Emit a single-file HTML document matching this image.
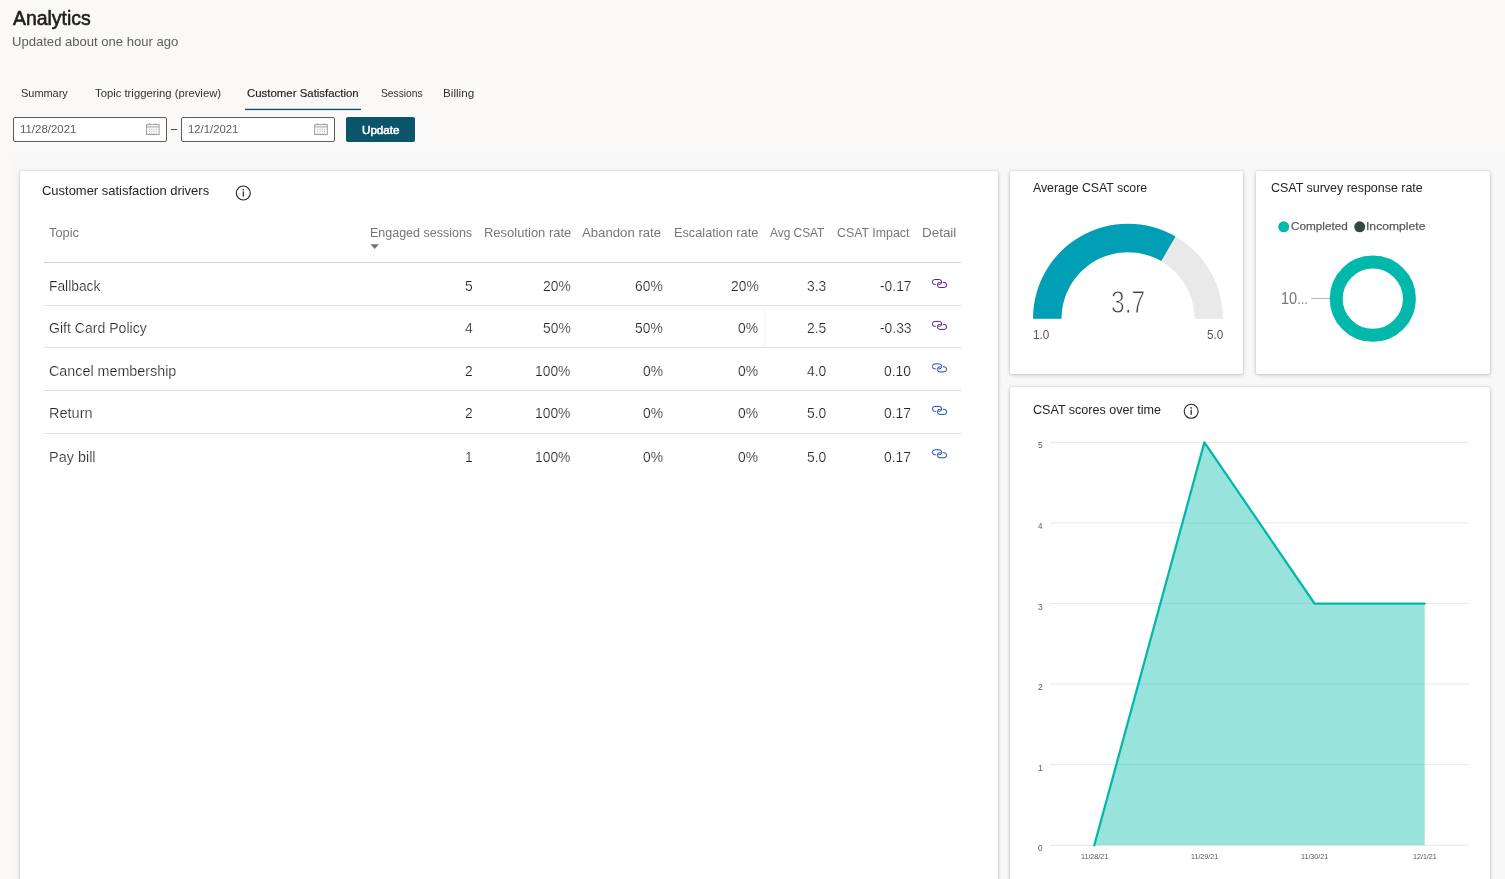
<!DOCTYPE html>
<html lang="en">
<head>
<meta charset="utf-8">
<title>Analytics - Customer Satisfaction</title>
<style>
html,body{margin:0;padding:0;}
body{width:1505px;height:879px;overflow:hidden;background:#faf9f8;font-family:"Liberation Sans",sans-serif;}
#root{position:relative;width:1505px;height:879px;overflow:hidden;}
.t{position:absolute;white-space:nowrap;line-height:1;transform-origin:0 0;font-family:"Liberation Sans",sans-serif;}
.abs{position:absolute;}
.card{position:absolute;background:#fff;border-radius:2px;box-shadow:0 1px 4px rgba(0,0,0,.20),0 0 2px rgba(0,0,0,.14);}
.inp{position:absolute;box-sizing:border-box;background:#fff;border:1px solid #605e5c;border-radius:2px;}
.hl{position:absolute;height:1px;}
svg{position:absolute;left:0;top:0;overflow:visible;}
</style>
</head>
<body>
<div id="root">
<!-- Power BI embed backdrop -->
<div class="abs" style="left:13px;top:153px;width:1492px;height:726px;background:#f8f8f8;"></div>

<!-- selected tab underline -->

<!-- date inputs + button -->
<div class="inp" style="left:13px;top:117px;width:154px;height:25px;"></div>
<div class="inp" style="left:181px;top:117px;width:154px;height:25px;"></div>
<div class="abs" style="left:346px;top:117px;width:69px;height:25px;background:#0b556a;border-radius:2px;"></div>

<!-- cards -->
<div class="card" style="left:20px;top:171px;width:978px;height:740px;"></div>
<div class="card" style="left:1010px;top:171px;width:233px;height:203px;"></div>
<div class="card" style="left:1256px;top:171px;width:234px;height:203px;"></div>
<div class="card" style="left:1010px;top:387px;width:480px;height:520px;"></div>

<!-- table rules -->
<div class="hl" style="left:44px;top:262px;width:917px;background:#cfcfcf;"></div>
<div class="hl" style="left:44px;top:305px;width:917px;background:#e3e3e3;"></div>
<div class="hl" style="left:44px;top:347px;width:917px;background:#e3e3e3;"></div>
<div class="hl" style="left:44px;top:389.5px;width:917px;height:1.5px;background:#e0e0e0;"></div>
<div class="hl" style="left:44px;top:433px;width:917px;background:#e3e3e3;"></div>
<div class="abs" style="left:764px;top:306px;width:1px;height:41px;background:#f4f4f4;"></div>


<svg width="1505" height="879" viewBox="0 0 1505 879">
  <defs>
    <g id="cal" fill="none" stroke="#a19f9d" stroke-width="1">
      <rect x="0.5" y="1.6" width="12.6" height="10"/>
      <line x1="0.5" y1="3.9" x2="13.1" y2="3.9"/>
      <line x1="3.6" y1="0.2" x2="3.6" y2="2"/>
      <line x1="10.0" y1="0.2" x2="10.0" y2="2"/>
      <g stroke="#b9b7b5" stroke-dasharray="1.3 0.9">
        <line x1="3.6" y1="5.6" x2="3.6" y2="11"/>
        <line x1="5.8" y1="5.6" x2="5.8" y2="11"/>
        <line x1="8.0" y1="5.6" x2="8.0" y2="11"/>
        <line x1="10.2" y1="5.6" x2="10.2" y2="11"/>
      </g>
    </g>
    <g id="info">
      <circle cx="0" cy="0" r="7" fill="none" stroke="#252423" stroke-width="1.1"/>
      <rect x="-0.6" y="-1.6" width="1.2" height="5.2" fill="#252423"/>
      <rect x="-0.7" y="-4.1" width="1.4" height="1.4" fill="#252423"/>
    </g>
    <g id="lnk" fill="none" stroke-width="1" stroke-linecap="round">
      <path d="M 4.0,5.5 L 3.5,5.5 A 2.5 2.5 0 0 1 3.5,0.5 L 7.8,0.5 A 2.5 2.5 0 0 1 7.8,5.5 L 7.4,5.5"/>
      <path d="M 11.9,3.4 L 12.7,3.4 A 2.55 2.55 0 0 1 12.7,8.5 L 8.5,8.5 A 2.55 2.55 0 0 1 8.5,3.4 L 8.9,3.4"/>
    </g>
  </defs>

  <rect x="245" y="108.75" width="116" height="1.35" fill="#0b556a"/>
  <use href="#cal" x="146" y="123"/>
  <use href="#cal" x="314.2" y="123"/>

  <use href="#info" x="243.3" y="193"/>
  <use href="#info" x="1191.2" y="411.3"/>

  <!-- sort arrow -->
  <polygon points="370.5,244.3 378.9,244.3 374.7,248.9" fill="#737373"/>

  <!-- detail links -->
  <use href="#lnk" x="931.4" y="279.0" stroke="#5a1e96"/>
  <use href="#lnk" x="931.4" y="320.9" stroke="#5a1e96"/>
  <use href="#lnk" x="931.4" y="363.4" stroke="#2244bb"/>
  <use href="#lnk" x="931.4" y="405.9" stroke="#2244bb"/>
  <use href="#lnk" x="931.4" y="449.3" stroke="#2244bb"/>

  <!-- gauge: centre (1128,318.7) R=95 r=66.5 ; fill to 60deg from right -->
  <path d="M 1033,318.7 A 95 95 0 0 1 1223,318.7 L 1194.5,318.7 A 66.5 66.5 0 0 0 1061.5,318.7 Z" fill="#e9e9e9"/>
  <path d="M 1033,318.7 A 95 95 0 0 1 1175.5,236.43 L 1161.25,261.11 A 66.5 66.5 0 0 0 1061.5,318.7 Z" fill="#019fb5"/>

  <!-- donut -->
  <circle cx="1372.8" cy="298.7" r="36.6" fill="none" stroke="#01b8aa" stroke-width="13"/>
  <line x1="1311.4" y1="298.4" x2="1330" y2="298.4" stroke="#b0b0b0" stroke-width="1"/>
  <circle cx="1283.7" cy="226.8" r="5.5" fill="#01b8aa"/>
  <circle cx="1359.7" cy="226.8" r="5.5" fill="#374649"/>

  <!-- area chart -->
  <g stroke="#e9e9e9" stroke-width="1">
    <line x1="1050" y1="442.4" x2="1469" y2="442.4"/>
    <line x1="1050" y1="522.9" x2="1469" y2="522.9"/>
    <line x1="1050" y1="603.5" x2="1469" y2="603.5"/>
    <line x1="1050" y1="684.0" x2="1469" y2="684.0"/>
    <line x1="1050" y1="764.6" x2="1469" y2="764.6"/>
    <line x1="1050" y1="845.3" x2="1469" y2="845.3"/>
  </g>
  <polygon points="1094.3,845.3 1204.4,442.4 1314.5,603.5 1424.7,603.5 1424.7,845.3" fill="#01b8aa" fill-opacity="0.4"/>
  <polyline points="1094.3,845.3 1204.4,442.4 1314.5,603.5 1424.7,603.5" fill="none" stroke="#01b8aa" stroke-width="2.25" stroke-linejoin="round" stroke-linecap="round"/>
</svg>

<!-- text -->
<span class="t" style="left:13.20px;top:9px;font-size:19.5px;color:#201f1e;transform:scaleX(0.9959);-webkit-text-stroke:0.6px #201f1e;">Analytics</span>
<span class="t" style="left:12.18px;top:35px;font-size:13px;color:#605e5c;transform:scaleX(1.0049);">Updated about one hour ago</span>
<span class="t" style="left:20.96px;top:88px;font-size:11.4px;color:#323130;transform:scaleX(0.9604);">Summary</span>
<span class="t" style="left:94.52px;top:88px;font-size:11.4px;color:#323130;transform:scaleX(0.9907);">Topic triggering (preview)</span>
<span class="t" style="left:246.86px;top:88px;font-size:11.4px;color:#201f1e;transform:scaleX(1.0024);-webkit-text-stroke:0.18px #201f1e;">Customer Satisfaction</span>
<span class="t" style="left:380.68px;top:88px;font-size:11.4px;color:#323130;transform:scaleX(0.9002);">Sessions</span>
<span class="t" style="left:443.49px;top:88px;font-size:11.4px;color:#323130;transform:scaleX(1.0248);">Billing</span>
<span class="t" style="left:19.89px;top:124px;font-size:11.3px;color:#605e5c;transform:scaleX(1.0119);">11/28/2021</span>
<span class="t" style="left:188.09px;top:124px;font-size:11.3px;color:#605e5c;transform:scaleX(1.0019);">12/1/2021</span>
<span class="t" style="left:171.00px;top:123px;font-size:12px;color:#323130;transform:scaleX(0.9185);">–</span>
<span class="t" style="left:361.67px;top:125px;font-size:10.8px;color:#ffffff;transform:scaleX(1.0767);-webkit-text-stroke:0.5px #fff;">Update</span>
<span class="t" style="left:42.09px;top:184px;font-size:13px;color:#252423;transform:scaleX(0.9970);">Customer satisfaction drivers</span>
<span class="t" style="left:49.40px;top:227px;font-size:12.4px;color:#777777;transform:scaleX(1.0364);">Topic</span>
<span class="t" style="left:370.02px;top:227px;font-size:12.4px;color:#777777;transform:scaleX(1.0082);">Engaged sessions</span>
<span class="t" style="left:483.59px;top:227px;font-size:12.4px;color:#777777;transform:scaleX(1.0472);">Resolution rate</span>
<span class="t" style="left:582.00px;top:227px;font-size:12.4px;color:#777777;transform:scaleX(1.0628);">Abandon rate</span>
<span class="t" style="left:674.00px;top:227px;font-size:12.4px;color:#777777;transform:scaleX(1.0279);">Escalation rate</span>
<span class="t" style="left:770.00px;top:227px;font-size:12.4px;color:#777777;transform:scaleX(0.9588);">Avg CSAT</span>
<span class="t" style="left:837.22px;top:227px;font-size:12.4px;color:#777777;transform:scaleX(0.9990);">CSAT Impact</span>
<span class="t" style="left:922.15px;top:227px;font-size:12.4px;color:#777777;transform:scaleX(1.0830);">Detail</span>
<span class="t" style="left:48.62px;top:279px;font-size:14.1px;color:#262626;transform:scaleX(0.9783);-webkit-text-stroke:0.2px #fff;">Fallback</span>
<span class="t" style="left:465.06px;top:279px;font-size:14.5px;color:#262626;transform:scaleX(0.9550);-webkit-text-stroke:0.2px #fff;">5</span>
<span class="t" style="left:543.10px;top:279px;font-size:14.5px;color:#262626;transform:scaleX(0.9550);-webkit-text-stroke:0.2px #fff;">20%</span>
<span class="t" style="left:634.90px;top:279px;font-size:14.5px;color:#262626;transform:scaleX(0.9550);-webkit-text-stroke:0.2px #fff;">60%</span>
<span class="t" style="left:730.50px;top:279px;font-size:14.5px;color:#262626;transform:scaleX(0.9550);-webkit-text-stroke:0.2px #fff;">20%</span>
<span class="t" style="left:806.81px;top:279px;font-size:14.5px;color:#262626;transform:scaleX(0.9550);-webkit-text-stroke:0.2px #fff;">3.3</span>
<span class="t" style="left:879.70px;top:279px;font-size:14.5px;color:#262626;transform:scaleX(0.9550);-webkit-text-stroke:0.2px #fff;">-0.17</span>
<span class="t" style="left:49.04px;top:321px;font-size:14.1px;color:#262626;transform:scaleX(0.9981);-webkit-text-stroke:0.2px #fff;">Gift Card Policy</span>
<span class="t" style="left:464.84px;top:321px;font-size:14.5px;color:#262626;transform:scaleX(0.9550);-webkit-text-stroke:0.2px #fff;">4</span>
<span class="t" style="left:543.10px;top:321px;font-size:14.5px;color:#262626;transform:scaleX(0.9550);-webkit-text-stroke:0.2px #fff;">50%</span>
<span class="t" style="left:634.90px;top:321px;font-size:14.5px;color:#262626;transform:scaleX(0.9550);-webkit-text-stroke:0.2px #fff;">50%</span>
<span class="t" style="left:738.20px;top:321px;font-size:14.5px;color:#262626;transform:scaleX(0.9550);-webkit-text-stroke:0.2px #fff;">0%</span>
<span class="t" style="left:806.81px;top:321px;font-size:14.5px;color:#262626;transform:scaleX(0.9550);-webkit-text-stroke:0.2px #fff;">2.5</span>
<span class="t" style="left:879.70px;top:321px;font-size:14.5px;color:#262626;transform:scaleX(0.9550);-webkit-text-stroke:0.2px #fff;">-0.33</span>
<span class="t" style="left:49.03px;top:364px;font-size:14.1px;color:#262626;transform:scaleX(1.0157);-webkit-text-stroke:0.2px #fff;">Cancel membership</span>
<span class="t" style="left:465.06px;top:364px;font-size:14.5px;color:#262626;transform:scaleX(0.9550);-webkit-text-stroke:0.2px #fff;">2</span>
<span class="t" style="left:535.40px;top:364px;font-size:14.5px;color:#262626;transform:scaleX(0.9550);-webkit-text-stroke:0.2px #fff;">100%</span>
<span class="t" style="left:642.60px;top:364px;font-size:14.5px;color:#262626;transform:scaleX(0.9550);-webkit-text-stroke:0.2px #fff;">0%</span>
<span class="t" style="left:738.20px;top:364px;font-size:14.5px;color:#262626;transform:scaleX(0.9550);-webkit-text-stroke:0.2px #fff;">0%</span>
<span class="t" style="left:806.59px;top:364px;font-size:14.5px;color:#262626;transform:scaleX(0.9550);-webkit-text-stroke:0.2px #fff;">4.0</span>
<span class="t" style="left:884.09px;top:364px;font-size:14.5px;color:#262626;transform:scaleX(0.9550);-webkit-text-stroke:0.2px #fff;">0.10</span>
<span class="t" style="left:48.56px;top:406px;font-size:14.1px;color:#262626;transform:scaleX(1.0315);-webkit-text-stroke:0.2px #fff;">Return</span>
<span class="t" style="left:465.06px;top:406px;font-size:14.5px;color:#262626;transform:scaleX(0.9550);-webkit-text-stroke:0.2px #fff;">2</span>
<span class="t" style="left:535.40px;top:406px;font-size:14.5px;color:#262626;transform:scaleX(0.9550);-webkit-text-stroke:0.2px #fff;">100%</span>
<span class="t" style="left:642.60px;top:406px;font-size:14.5px;color:#262626;transform:scaleX(0.9550);-webkit-text-stroke:0.2px #fff;">0%</span>
<span class="t" style="left:738.20px;top:406px;font-size:14.5px;color:#262626;transform:scaleX(0.9550);-webkit-text-stroke:0.2px #fff;">0%</span>
<span class="t" style="left:806.59px;top:406px;font-size:14.5px;color:#262626;transform:scaleX(0.9550);-webkit-text-stroke:0.2px #fff;">5.0</span>
<span class="t" style="left:884.31px;top:406px;font-size:14.5px;color:#262626;transform:scaleX(0.9550);-webkit-text-stroke:0.2px #fff;">0.17</span>
<span class="t" style="left:48.57px;top:450px;font-size:14.1px;color:#262626;transform:scaleX(1.0248);-webkit-text-stroke:0.2px #fff;">Pay bill</span>
<span class="t" style="left:465.06px;top:450px;font-size:14.5px;color:#262626;transform:scaleX(0.9550);-webkit-text-stroke:0.2px #fff;">1</span>
<span class="t" style="left:535.40px;top:450px;font-size:14.5px;color:#262626;transform:scaleX(0.9550);-webkit-text-stroke:0.2px #fff;">100%</span>
<span class="t" style="left:642.60px;top:450px;font-size:14.5px;color:#262626;transform:scaleX(0.9550);-webkit-text-stroke:0.2px #fff;">0%</span>
<span class="t" style="left:738.20px;top:450px;font-size:14.5px;color:#262626;transform:scaleX(0.9550);-webkit-text-stroke:0.2px #fff;">0%</span>
<span class="t" style="left:806.59px;top:450px;font-size:14.5px;color:#262626;transform:scaleX(0.9550);-webkit-text-stroke:0.2px #fff;">5.0</span>
<span class="t" style="left:884.31px;top:450px;font-size:14.5px;color:#262626;transform:scaleX(0.9550);-webkit-text-stroke:0.2px #fff;">0.17</span>
<span class="t" style="left:1033.20px;top:181px;font-size:13px;color:#252423;transform:scaleX(0.9454);">Average CSAT score</span>
<span class="t" style="left:1270.82px;top:181px;font-size:13px;color:#252423;transform:scaleX(0.9576);">CSAT survey response rate</span>
<span class="t" style="left:1110.73px;top:286px;font-size:32px;color:#444444;transform:scaleX(0.7680);-webkit-text-stroke:0.9px #fff;">3.7</span>
<span class="t" style="left:1033.47px;top:329px;font-size:12.8px;color:#555555;transform:scaleX(0.9175);">1.0</span>
<span class="t" style="left:1206.64px;top:329px;font-size:12.8px;color:#555555;transform:scaleX(0.9078);">5.0</span>
<span class="t" style="left:1291.25px;top:220px;font-size:11.6px;color:#5c5c5c;transform:scaleX(1.0145);-webkit-text-stroke:0.25px #5c5c5c;">Completed</span>
<span class="t" style="left:1366.05px;top:220px;font-size:11.6px;color:#5c5c5c;transform:scaleX(1.0476);-webkit-text-stroke:0.25px #5c5c5c;">Incomplete</span>
<span class="t" style="left:1280.99px;top:291px;font-size:15.8px;color:#777777;transform:scaleX(0.9201);">10</span>
<span class="t" style="left:1296.50px;top:291px;font-size:15.8px;color:#777777;transform:scaleX(0.7089);">…</span>
<span class="t" style="left:1033.21px;top:403px;font-size:13px;color:#252423;transform:scaleX(0.9655);">CSAT scores over time</span>
<span class="t" style="left:1037.84px;top:441px;font-size:8.7px;color:#606060;transform:scaleX(0.9729);">5</span>
<span class="t" style="left:1037.98px;top:522px;font-size:8.7px;color:#606060;transform:scaleX(0.9140);">4</span>
<span class="t" style="left:1037.84px;top:603px;font-size:8.7px;color:#606060;transform:scaleX(0.9729);">3</span>
<span class="t" style="left:1037.69px;top:683px;font-size:8.7px;color:#606060;transform:scaleX(1.0054);">2</span>
<span class="t" style="left:1037.53px;top:764px;font-size:8.7px;color:#606060;transform:scaleX(1.0400);">1</span>
<span class="t" style="left:1037.84px;top:844px;font-size:8.7px;color:#606060;transform:scaleX(0.9425);">0</span>
<span class="t" style="left:1080.66px;top:853px;font-size:8px;color:#555555;transform:scaleX(0.8882);">11/28/21</span>
<span class="t" style="left:1190.76px;top:853px;font-size:8px;color:#555555;transform:scaleX(0.8882);">11/29/21</span>
<span class="t" style="left:1300.86px;top:853px;font-size:8px;color:#555555;transform:scaleX(0.8882);">11/30/21</span>
<span class="t" style="left:1412.76px;top:853px;font-size:8px;color:#555555;transform:scaleX(0.8892);">12/1/21</span>
</div>
</body>
</html>
